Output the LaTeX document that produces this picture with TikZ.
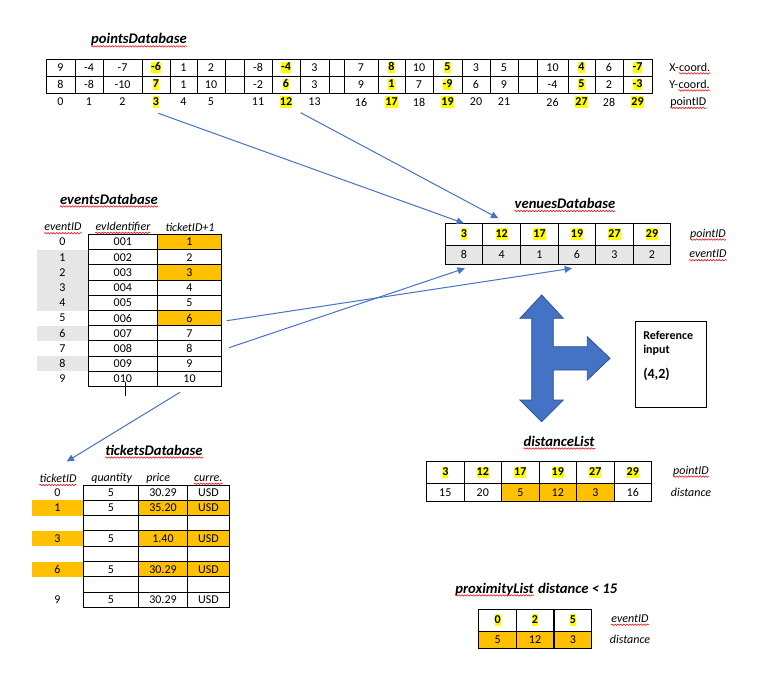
\documentclass[tikz,border=0pt]{standalone}
\usepackage{fontspec}
\setmainfont{Carlito}
\usetikzlibrary{arrows.meta,calc,decorations.pathmorphing}
\definecolor{hlyellow}{HTML}{FFFF00}
\definecolor{orng}{HTML}{FFC000}
\definecolor{grayf}{HTML}{E7E6E6}
\definecolor{blu}{HTML}{4472C4}
\definecolor{bludark}{HTML}{2F528F}
\newcommand\hl[1]{{\setlength{\fboxsep}{0pt}\colorbox{hlyellow}{\rule[-2pt]{0pt}{8.8pt}\textbf{#1}}}}
\newcommand\mayhl[2]{\ifnum#1=1 \hl{#2}\else #2\fi}
\newcommand\cf{\fontsize{9}{11}\selectfont}
\tikzset{
  cell/.style={font=\cf, inner sep=0pt, outer sep=0pt},
  lab/.style={font=\cf\itshape, inner sep=0pt},
  ulab/.style={font=\cf, inner sep=0pt},
  ttl/.style={font=\fontsize{11}{13}\selectfont\bfseries\itshape, inner sep=0pt},
  bt/.style={font=\cf\bfseries, inner sep=0pt, anchor=west},
  grid/.style={draw=black, line width=0.75pt},
  tcell/.style={draw=black, line width=0.75pt, font=\cf, inner sep=0pt, outer sep=0pt},
  conn/.style={draw=blu, line width=0.75pt, -{Triangle[length=5.5pt,width=5pt]}},
  bigarrow/.style={fill=blu, draw=bludark, line width=0.6pt, line join=miter},
  wavy/.style={draw=red, line width=0.4pt, decorate, decoration={snake, amplitude=0.55pt, segment length=2.2pt}},
  spell/.style={append after command={([yshift=-1.8pt]\tikzlastnode.base west) edge[wavy] ([yshift=-1.8pt]\tikzlastnode.base east)}}
}
\begin{document}
\begin{tikzpicture}[x=0.75pt,y=-0.75pt]
\fill[white] (0,0) rectangle (775,675);
\useasboundingbox (0,0) rectangle (775,675);

% ---------------- pointsDatabase
\node[ttl, spell] (tpoints) at (139,40) {pointsDatabase};
\draw[grid] (46,59) rectangle (652,93);
\draw[grid] (46,76) -- (652,76);
\foreach \x in {75,103,142,170,197,225,244,272,300,329,344,378,405,433,462,490,518,537,568,595,623}
  \draw[grid] (\x,59) -- (\x,93);
\foreach \cx/\xv/\yv/\pid/\h [count=\k] in {60.5/9/8/0/0, 89/-4/-8/1/0, 122.5/-7/-10/2/0, 156/-6/7/3/1, 183.5/1/1/4/0, 211/2/10/5/0, 258/-8/-2/11/0, 286/-4/6/12/1, 314.5/3/3/13/0, 361/7/9/16/0, 391.5/8/1/17/1, 419/10/7/18/0, 447.5/5/-9/19/1, 476/3/6/20/0, 504/5/9/21/0, 552.5/10/-4/26/0, 581.5/4/5/27/1, 609/6/2/28/0, 637.5/-7/-3/29/1}{
  \node[cell] (px\k) at (\cx,67.5) {\mayhl{\h}{\xv}};
  \node[cell] (py\k) at (\cx,84.5) {\mayhl{\h}{\yv}};
  \node[cell] (pid\k) at (\cx,102) {\mayhl{\h}{\pid}};
}
\node[ulab, anchor=base west] (lx1) at (669,71) {X-};
\node[ulab, spell, anchor=base west] (lx2) at (lx1.base east) {coord.};
\node[ulab, anchor=base west] (ly1) at (669,88) {Y-};
\node[ulab, spell, anchor=base west] (ly2) at (ly1.base east) {coord.};
\node[ulab, spell, anchor=base west] (lp) at (670,105.5) {pointID};

% ---------------- venuesDatabase
\node[ttl, spell] (tven) at (565,203.5) {venuesDatabase};
\foreach \cx/\p/\e [count=\k] in {463.9/3/8, 501.7/12/4, 539.5/17/1, 577/19/6, 614.5/27/3, 652/29/2}{
  \node[tcell, minimum width={37.6*0.75pt}, minimum height={21.7*0.75pt}] (v\k) at (\cx,234.15) {\hl{\p}};
  \node[tcell, fill=grayf, minimum width={37.6*0.75pt}, minimum height={19*0.75pt}] (vb\k) at (\cx,254.5) {\e};
}
\node[lab, spell] (vlp) at (708,234) {pointID};
\node[lab, spell] (vle) at (708,254) {eventID};

% ---------------- big arrow and reference input
\draw[bigarrow] (541.7,295) -- (563.3,318.3) -- (553.3,318.3) -- (553.3,346.7) -- (587.3,346.7) -- (587.3,336.7) -- (610,358.3) -- (587.3,380) -- (587.3,370) -- (553.3,370) -- (553.3,400) -- (563.3,400) -- (541.7,421.7) -- (520,400) -- (531.7,400) -- (531.7,318.3) -- (520,318.3) -- cycle;
\node[draw=black, line width=0.75pt, minimum width={71*0.75pt}, minimum height={86.7*0.75pt}, inner sep=0pt] (ref) at (670.5,364.35) {};
\node[bt] (r1) at (643,335.7) {Reference};
\node[bt] (r2) at (643,350.7) {input};
\node[bt, font=\fontsize{10.5}{12}\selectfont\bfseries] (r3) at (643,374.5) {(4,2)};

% ---------------- distanceList
\node[ttl, spell] (tdist) at (559,441) {distanceList};
\foreach \cx/\p/\d/\o [count=\k] in {445.3/3/15/0, 482.8/12/20/0, 520.3/17/5/1, 557.8/19/12/1, 595.3/27/3/1, 632.8/29/16/0}{
  \ifnum\o=1 \def\ff{orng}\else\def\ff{white}\fi
  \node[tcell, minimum width={37.5*0.75pt}, minimum height={21.6*0.75pt}] (d\k) at (\cx,472.5) {\hl{\p}};
  \node[tcell, fill=\ff, minimum width={37.5*0.75pt}, minimum height={18.4*0.75pt}] (db\k) at (\cx,492.5) {\d};
}
\node[lab, spell] (dlp) at (691,471) {pointID};
\node[lab] (dld) at (691,492) {distance};

% ---------------- proximityList
\node[ttl, spell, anchor=base west] (tprox1) at (455,593) {proximityList};
\node[ttl, anchor=base west] (tprox2) at ([xshift=2.8pt]tprox1.base east) {distance < 15};
\foreach \cx/\p/\d [count=\k] in {497.7/0/5, 535/2/12, 572.8/5/3}{
  \node[tcell, minimum width={37.5*0.75pt}, minimum height={21.7*0.75pt}] (x\k) at (\cx,620.2) {\hl{\p}};
  \node[tcell, fill=orng, minimum width={37.5*0.75pt}, minimum height={17.3*0.75pt}] (xb\k) at (\cx,639.7) {\d};
}
\node[lab, spell] (xle) at (630,618.5) {eventID};
\node[lab] (xld) at (630,639.5) {distance};

% ---------------- eventsDatabase
\node[ttl, spell] (tev) at (109,199) {eventsDatabase};
\node[lab, spell] (hev1) at (63,227) {eventID};
\node[lab, spell] (hev2) at (123,227) {evIdentifier};
\node[lab] (hev3) at (190,227) {ticketID+1};
\foreach \k/\ev/\tk/\o/\g in {0/001/1/1/0, 1/002/2/0/1, 2/003/3/1/1, 3/004/4/0/1, 4/005/5/0/1, 5/006/6/1/0, 6/007/7/0/1, 7/008/8/0/0, 8/009/9/0/1, 9/010/10/0/0}{
  \pgfmathsetmacro\yc{234.3+15.24*(\k+0.5)}
  \ifnum\g=1 \fill[grayf] (37.3,{\yc-7.62}) rectangle (88.3,{\yc+7.62}); \fi
  \ifnum\o=1 \def\ff{orng}\else\def\ff{white}\fi
  \node[cell] (eid\k) at (62.3,\yc) {\k};
  \node[tcell, minimum width={69*0.75pt}, minimum height={15.24*0.75pt}] (eev\k) at (122.8,\yc) {\ev};
  \node[tcell, fill=\ff, minimum width={64.4*0.75pt}, minimum height={15.24*0.75pt}] (etk\k) at (189.5,\yc) {\tk};
}
\coordinate (st1) at (125.7,382);
\coordinate (st2) at (125.7,396);
\draw[line width=0.75pt] (st1) -- (st2);

% ---------------- ticketsDatabase
\node[ttl, spell] (ttk) at (154,450) {ticketsDatabase};
\node[lab, spell] (htk1) at (58,478.5) {ticketID};
\node[lab] (htk2) at (111.7,478.5) {quantity};
\node[lab] (htk3) at (158.3,478.5) {price};
\node[lab, spell] (htk4) at (208.3,478.5) {curre.};
\foreach \k/\id/\q/\p/\c/\o in {0/0/5/30.29/USD/0, 1/1/5/35.20/USD/1, 2/{}/{}/{}/{}/0, 3/3/5/1.40/USD/1, 4/{}/{}/{}/{}/0, 5/6/5/30.29/USD/1, 6/{}/{}/{}/{}/0, 7/9/5/30.29/USD/0}{
  \pgfmathsetmacro\yc{485+15.33*(\k+0.5)}
  \ifnum\o=1 \def\ff{orng}\fill[orng] (32.3,{\yc-7.66}) rectangle (83.3,{\yc+7.66});\else\def\ff{white}\fi
  \node[cell] (tid\k) at (57.5,\yc) {\id};
  \node[tcell, minimum width={55*0.75pt}, minimum height={15.33*0.75pt}] (tq\k) at (110.8,\yc) {\q};
  \node[tcell, fill=\ff, minimum width={49.4*0.75pt}, minimum height={15.33*0.75pt}] (tp\k) at (163,\yc) {\p};
  \node[tcell, fill=\ff, minimum width={41.3*0.75pt}, minimum height={15.33*0.75pt}] (tc\k) at (208.35,\yc) {\c};
}

% ---------------- connectors
\draw[conn] ($(pid4)+(2.3,11.3)$) -- (v1.north);
\draw[conn] ($(pid8)+(14.7,10.7)$) -- ($(v2.north)+(-3.4,-5)$);
\draw[conn] ($(etk5.east)+(5,2.6)$) -- ($(vb4.south)+(-5,4.3)$);
\draw[conn] ($(etk7.east)+(7.3,-0.9)$) -- ($(vb1.south)+(1,4.3)$);
\draw[conn] ($(etk9.south)+(-9.5,5.6)$) -- ($(htk1)+(8.7,-17)$);
\end{tikzpicture}
\end{document}
